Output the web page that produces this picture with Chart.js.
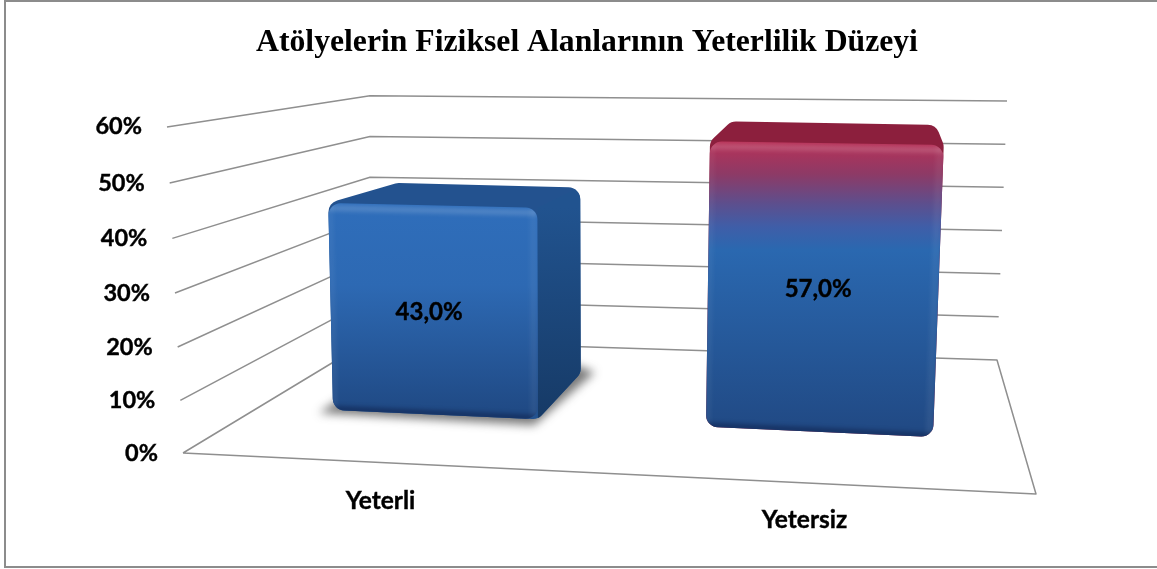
<!DOCTYPE html>
<html>
<head>
<meta charset="utf-8">
<style>
html, body { margin: 0; padding: 0; background: #fff; }
canvas { display: block; }
</style>
<script src="https://cdn.jsdelivr.net/npm/chart.js@4/dist/chart.umd.js"></script>
</head>
<body>
<canvas id="barChart" width="1157" height="569"></canvas>
<script>
const chartTitle = 'Atölyelerin Fiziksel Alanlarının Yeterlilik Düzeyi';
const categories = ['Yeterli', 'Yetersiz'];
const seriesValues = [43, 57];
const tickValues = [0, 10, 20, 30, 40, 50, 60];

// colours per bar: face gradient, top face, side face
const faceStops = [
    [[0, '#2f6ebb'], [0.4, '#2d69b3'], [1, '#204a85']],
    [[0, '#b83157'], [0.115, '#8d3a66'], [0.22, '#5c4f8e'], [0.3, '#3f5ea8'], [0.38, '#2a68b0'], [1, '#214a85']]
];
const topColors = ['#23528f', '#8c1f3d'];
const sideStops = [['#21538f', '#163a66'], ['#21538f', '#163a66']];
const GRID = '#8f8f8f';

// view calibration of the tilted 3d picture
const floorY = x => 410 + (x - 333) * 0.045;
const heightRatio = x => (4.81 + (x - 330) * 0.000517) / 5.43;
const lean = x => (x - 566) * 0.0001;
const widthRatio = x => 1 + (x - 627.5) * 0.000267;
const depthX = x => 69 - (x - 328) * 0.125;
const depthY = y => -20 - Math.max(0, y - 207) * 0.1226;

function frontPoint(cx, dx, h) {
    const bx = cx + dx * widthRatio(cx);
    const sh = h * heightRatio(bx);
    return [bx + lean(bx) * sh, floorY(bx) - sh];
}
function backPoint(p) {
    return [p[0] + depthX(p[0]), p[1] + depthY(p[1])];
}
function roundedPoly(ctx, pts, r) {
    const n = pts.length;
    ctx.beginPath();
    const start = [(pts[n - 1][0] + pts[0][0]) / 2, (pts[n - 1][1] + pts[0][1]) / 2];
    ctx.moveTo(start[0], start[1]);
    for (let i = 0; i < n; i++) {
        const a = pts[i], b = pts[(i + 1) % n];
        ctx.arcTo(a[0], a[1], b[0], b[1], r);
    }
    ctx.closePath();
}
function vGradient(ctx, y0, y1, stops) {
    const g = ctx.createLinearGradient(0, y0, 0, y1);
    stops.forEach(s => g.addColorStop(s[0], s[1]));
    return g;
}
function edge(ctx, a, b, color, width) {
    ctx.strokeStyle = color;
    ctx.lineWidth = width;
    ctx.beginPath();
    ctx.moveTo(a[0], a[1]);
    ctx.lineTo(b[0], b[1]);
    ctx.stroke();
}

class Box3D extends Chart.BarElement {
    draw(ctx) {
        const { x, y, base, width } = this.getProps(['x', 'y', 'base', 'width']);
        const i = this.barIndex;
        const h = base - y;
        const bl = frontPoint(x, -width / 2, 0);
        const br = frontPoint(x, width / 2, 0);
        const tr = frontPoint(x, width / 2, h);
        const tl = frontPoint(x, -width / 2, h);
        const btl = backPoint(tl), btr = backPoint(tr), bbr = backPoint(br);
        const sideShows = btr[0] > tr[0];

        ctx.save();
        // floor shadow + side only show when the box is left of the camera
        if (sideShows) {
            ctx.save();
            ctx.filter = 'blur(5px)';
            ctx.fillStyle = 'rgba(40,40,40,0.62)';
            ctx.beginPath();
            ctx.moveTo(bl[0] - 14, bl[1] + 3);
            ctx.lineTo(br[0] - 4, br[1] + 6);
            ctx.lineTo(bbr[0] + 14, bbr[1] - 1);
            ctx.lineTo(bbr[0] - 10, bbr[1] - 10);
            ctx.lineTo(bl[0] + 20, bl[1] - 20);
            ctx.closePath();
            ctx.fill();
            ctx.restore();
        }

        // outline of top + side, the front face goes over it
        ctx.save();
        const outline = sideShows ? [tl, btl, btr, bbr, br, bl] : [tl, btl, btr, tr, br, bl];
        roundedPoly(ctx, outline, 12);
        ctx.fillStyle = topColors[i];
        ctx.fill();
        ctx.clip();
        if (sideShows) {
            ctx.fillStyle = vGradient(ctx, tr[1], br[1], [[0, sideStops[i][0]], [1, sideStops[i][1]]]);
            ctx.beginPath();
            ctx.moveTo(tr[0], tr[1]);
            ctx.lineTo(btr[0] + 6, btr[1] - 4);
            ctx.lineTo(bbr[0] + 6, bbr[1]);
            ctx.lineTo(br[0], br[1]);
            ctx.closePath();
            ctx.fill();
        }
        ctx.restore();

        // front face
        ctx.fillStyle = vGradient(ctx, tl[1], bl[1], faceStops[i]);
        roundedPoly(ctx, [tl, tr, br, bl], 12);
        ctx.fill();

        // soft bevel
        ctx.save();
        roundedPoly(ctx, [tl, tr, br, bl], 12);
        ctx.clip();
        ctx.filter = 'blur(2px)';
        edge(ctx, [tl[0], tl[1] + 5], [tr[0], tr[1] + 5], 'rgba(255,255,255,0.16)', 6);
        edge(ctx, [tl[0] + 2, tl[1]], [bl[0] + 2, bl[1]], 'rgba(255,255,255,0.06)', 5);
        edge(ctx, [tr[0] - 4, tr[1]], [br[0] - 4, br[1]], 'rgba(255,255,255,0.06)', 7);
        edge(ctx, [bl[0], bl[1] - 1], [br[0], br[1] - 1], 'rgba(0,0,30,0.3)', 7);
        ctx.restore();
        ctx.restore();

        // value label on the face
        ctx.save();
        ctx.fillStyle = '#000';
        ctx.strokeStyle = '#000';
        ctx.lineWidth = 0.4;
        ctx.font = 'bold 24px Lato';
        ctx.textAlign = 'center';
        ctx.textBaseline = 'middle';
        const label = this.barValue.toFixed(1).replace('.', ',') + '%';
        const lx = (bl[0] + br[0] + tl[0] + tr[0]) / 4 - 5;
        const ly = (tl[1] + tr[1] + bl[1] + br[1]) / 4 + 2;
        ctx.fillText(label, lx, ly);
        ctx.strokeText(label, lx, ly);
        ctx.restore();
    }
}
Box3D.id = 'box3d';
Box3D.defaults = Chart.BarElement.defaults;
Box3D.defaultRoutes = Chart.BarElement.defaultRoutes;

class Bar3DController extends Chart.BarController {
    update(mode) {
        super.update(mode);
        this.getMeta().data.forEach((el, i) => {
            el.barIndex = i;
            el.barValue = this.getParsed(i).y;
        });
    }
}
Bar3DController.id = 'bar3d';
Bar3DController.defaults = Object.assign({}, Chart.BarController.defaults, { dataElementType: 'box3d' });
Bar3DController.overrides = Chart.BarController.overrides;

Chart.register(Box3D, Bar3DController);

// room corners in terms of a tick value and its pixel on the y scale
const bow = v => 3 * (1 - Math.pow((v - 30) / 30, 2));
const wallFront = (v, py) => [183 - v * 16 / 60, py + bow(v)];
const wallBackLeft = v => [370, 340 - v * 4.07];
const wallBackRight = v => [997 + v / 6, 360 - v * 4.317];

const room3d = {
    id: 'room3d',
    beforeDraw(chart) {
        const ctx = chart.ctx;
        ctx.save();
        ctx.strokeStyle = '#8c8c8c';
        ctx.lineWidth = 2;
        ctx.beginPath();
        ctx.moveTo(1157, 1);
        ctx.lineTo(5, 1);
        ctx.lineTo(5, 567);
        ctx.lineTo(1157, 567);
        ctx.stroke();
        ctx.restore();

        // shift the axis labels onto the tilted front edge
        const yScale = chart.scales.y, xScale = chart.scales.x;
        yScale.getLabelItems().forEach((item, i) => {
            const v = tickValues[i];
            const p = wallFront(v, yScale.getPixelForValue(v));
            item.options.translation = [p[0] - 25, p[1] - (v === 60 ? 1 : 0)];
        });
        yScale.left = 0; // labels get clipped to the scale box otherwise
        xScale.getLabelItems().forEach((item, i) => {
            const px = xScale.getPixelForValue(i);
            item.options.translation = [px - 55 + i * 40, floorY(px) + 72 + i * 2];
        });
    },
    beforeDatasetsDraw(chart) {
        const ctx = chart.ctx, yScale = chart.scales.y;
        ctx.save();
        ctx.strokeStyle = GRID;
        ctx.lineWidth = 1.5;
        ctx.lineJoin = 'round';
        tickValues.forEach(v => {
            const a = wallFront(v, yScale.getPixelForValue(v));
            const b = wallBackLeft(v), c = wallBackRight(v);
            ctx.beginPath();
            ctx.moveTo(a[0], a[1]);
            ctx.lineTo(b[0], b[1]);
            ctx.lineTo(c[0], c[1]);
            if (v === 0) {
                ctx.lineTo(1036, 494);
                ctx.lineTo(a[0], a[1]);
            }
            ctx.stroke();
        });
        ctx.restore();
    }
};

new Chart(document.getElementById('barChart'), {
    type: 'bar3d',
    plugins: [room3d],
    data: {
        labels: categories,
        datasets: [{
            label: 'Yeterlilik',
            data: seriesValues,
            backgroundColor: '#2d69b3',
            categoryPercentage: 0.5625,
            barPercentage: 1,
            clip: false
        }]
    },
    options: {
        responsive: false,
        animation: false,
        devicePixelRatio: 1,
        layout: { padding: { left: 162.5, right: 145.5, top: 0, bottom: 0 } },
        plugins: {
            legend: { display: false },
            tooltip: { enabled: false },
            title: {
                display: true,
                text: chartTitle,
                color: '#000',
                font: { family: 'Liberation Serif', weight: 'bold', size: 31.7, lineHeight: 1.2 },
                padding: { top: 24, bottom: 65 }
            }
        },
        scales: {
            x: {
                grid: { display: false },
                border: { display: false },
                ticks: {
                    color: '#000',
                    font: { family: 'Lato', weight: 'bold', size: 24.5 },
                    textStrokeColor: '#000',
                    textStrokeWidth: 0.4,
                    maxRotation: 0
                },
                afterFit(scale) { scale.height = 116; }
            },
            y: {
                min: 0,
                max: 60,
                afterBuildTicks(scale) { scale.ticks = tickValues.map(v => ({ value: v })); },
                grid: { display: false },
                border: { display: false },
                ticks: {
                    color: '#000',
                    font: { family: 'Lato', weight: 'bold', size: 23.5 },
                    textStrokeColor: '#000',
                    textStrokeWidth: 0.4,
                    callback: v => v + '%'
                },
                afterFit(scale) { scale.width = 81; }
            }
        }
    }
});
</script>
</body>
</html>
